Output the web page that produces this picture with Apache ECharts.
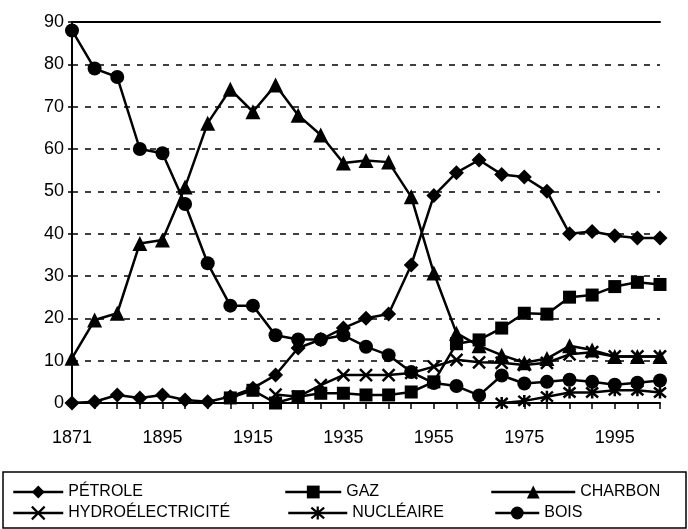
<!DOCTYPE html>
<html>
<head>
<meta charset="utf-8">
<script src="https://cdn.jsdelivr.net/npm/echarts@6/dist/echarts.min.js"></script>
<style>
  html, body { margin: 0; padding: 0; background: #fff; }
  #chart { width: 688px; height: 529px; }
</style>
</head>
<body>
<div id="chart"></div>
<script>
// catégories (années)
const years = ['1871', '1880', '1885', '1890', '1895', '1900', '1905', '1910', '1915', '1920',
  '1925', '1930', '1935', '1940', '1945', '1950', '1955', '1960', '1965', '1970',
  '1975', '1980', '1985', '1990', '1995', '2000', '2005']

// parts en %
const petrole = [0, 0.3, 1.9, 1.2, 1.9, 0.7, 0.3, 1.5, 3.5, 6.6, 13, 15, 17.7, 20, 21, 32.6, 49, 54.4, 57.4, 54, 53.4, 50, 40, 40.5, 39.5, 39, 39]
const gaz = [null, null, null, null, null, null, null, 1.2, 3, 0, 1.5, 2.3, 2.3, 1.9, 1.9, 2.6, 5, 14, 14.9, 17.7, 21.2, 21, 25, 25.5, 27.5, 28.5, 28]
const charbon = [10.6, 19.6, 21.2, 37.7, 38.5, 51, 66.1, 74.1, 68.8, 75.1, 68, 63.3, 56.7, 57.3, 56.9, 48.7, 30.7, 16.5, 13.5, 11.3, 9.5, 10.5, 13.5, 12.5, 11, 11, 11]
const hydro = [null, null, null, null, null, null, null, null, null, 2, 1.5, 4.2, 6.6, 6.6, 6.6, 7.1, 8.6, 10.2, 9.6, 9.5, 9, 9.5, 11.5, 12, 11, 11, 11]
const nucleaire = [null, null, null, null, null, null, null, null, null, null, null, null, null, null, null, null, null, null, null, 0, 0.5, 1.5, 2.5, 2.5, 3, 3, 2.5]
const bois = [88, 79, 77, 60, 59, 47, 33, 23, 23, 16, 15, 15, 16, 13.3, 11.3, 7.3, 4.7, 4, 1.8, 6.5, 4.6, 5, 5.5, 5, 4.3, 4.8, 5.3]

const yTicks = [0, 10, 20, 30, 40, 50, 60, 70, 80, 90]

const FONT = 'Liberation Sans, Arial, sans-serif'
const crossPath = 'path://M0,0L10,10M10,0L0,10'
const starPath = 'path://M0,0L10,10M10,0L0,10M5,-1L5,11'

// une série en ligne noire avec marqueurs
function makeSeries(name, data, symbol, size, stroked) {
  return {
    name: name,
    type: 'line',
    data: data,
    symbol: symbol,
    symbolSize: size,
    showAllSymbol: true,
    connectNulls: false,
    lineStyle: { color: '#000', width: 2.5 },
    itemStyle: stroked
      ? { color: '#000', borderColor: '#000', borderWidth: 2.5 }
      : { color: '#000', borderWidth: 0 },
    emphasis: { disabled: true },
    z: 3
  }
}

// une légende par élément, placée à la main
function makeLegend(name, left, top, width, stroked) {
  return {
    data: [name],
    left: left,
    top: top,
    itemWidth: width,
    itemHeight: 16,
    itemGap: 4,
    padding: 0,
    selectedMode: false,
    lineStyle: { color: '#000', width: 2.5 },
    itemStyle: stroked
      ? { color: '#000', borderColor: '#000', borderWidth: 2.2 }
      : { color: '#000', borderWidth: 0 },
    textStyle: { fontFamily: FONT, fontSize: 16, color: '#000' }
  }
}

const chart = echarts.init(document.getElementById('chart'), null, { renderer: 'canvas' })

const option = {
  animation: false,
  backgroundColor: '#fff',
  grid: { left: 72, right: 28, top: 22, bottom: 126 },
  xAxis: [
    {
      type: 'category',
      data: years,
      boundaryGap: false,
      axisLine: { lineStyle: { color: '#000', width: 2 } },
      axisTick: { show: true, interval: 0, length: 6, lineStyle: { color: '#000', width: 1.5 } },
      axisLabel: { interval: 3, margin: 26, fontFamily: FONT, fontSize: 18, color: '#000' },
      splitLine: { show: false }
    },
    {
      // ligne du haut du cadre
      type: 'category',
      data: years,
      position: 'top',
      boundaryGap: false,
      axisLine: { show: true, lineStyle: { color: '#000', width: 2 } },
      axisTick: { show: false },
      axisLabel: { show: false }
    }
  ],
  yAxis: {
    type: 'value',
    min: yTicks[0],
    max: yTicks[yTicks.length - 1],
    interval: 10,
    axisLine: { show: true, lineStyle: { color: '#000', width: 2 } },
    axisTick: { show: true, length: 4, lineStyle: { color: '#000', width: 1.5 } },
    axisLabel: { margin: 8, fontFamily: FONT, fontSize: 18, color: '#000' },
    splitLine: { show: true, lineStyle: { color: '#000', width: 1.5, type: [6, 7] } }
  },
  legend: [
    makeLegend('PÉTROLE', 12, 484, 50, false),
    makeLegend('GAZ', 284, 484, 56, false),
    makeLegend('CHARBON', 490, 484, 84, false),
    makeLegend('HYDROÉLECTRICITÉ', 12, 505, 50, true),
    makeLegend('NUCLÉAIRE', 287, 505, 59, true),
    makeLegend('BOIS', 494, 505, 44, false)
  ],
  graphic: [
    {
      // cadre de la légende
      type: 'rect',
      shape: { x: 3, y: 472, width: 683, height: 56 },
      style: { fill: 'none', stroke: '#000', lineWidth: 1.5 }
    }
  ],
  series: [
    makeSeries('PÉTROLE', petrole, 'diamond', 15, false),
    makeSeries('GAZ', gaz, 'rect', 13, false),
    makeSeries('CHARBON', charbon, 'triangle', 15, false),
    makeSeries('HYDROÉLECTRICITÉ', hydro, crossPath, 12, true),
    makeSeries('NUCLÉAIRE', nucleaire, starPath, 12, true),
    makeSeries('BOIS', bois, 'circle', 14, false)
  ]
}

chart.setOption(option)
</script>
</body>
</html>
